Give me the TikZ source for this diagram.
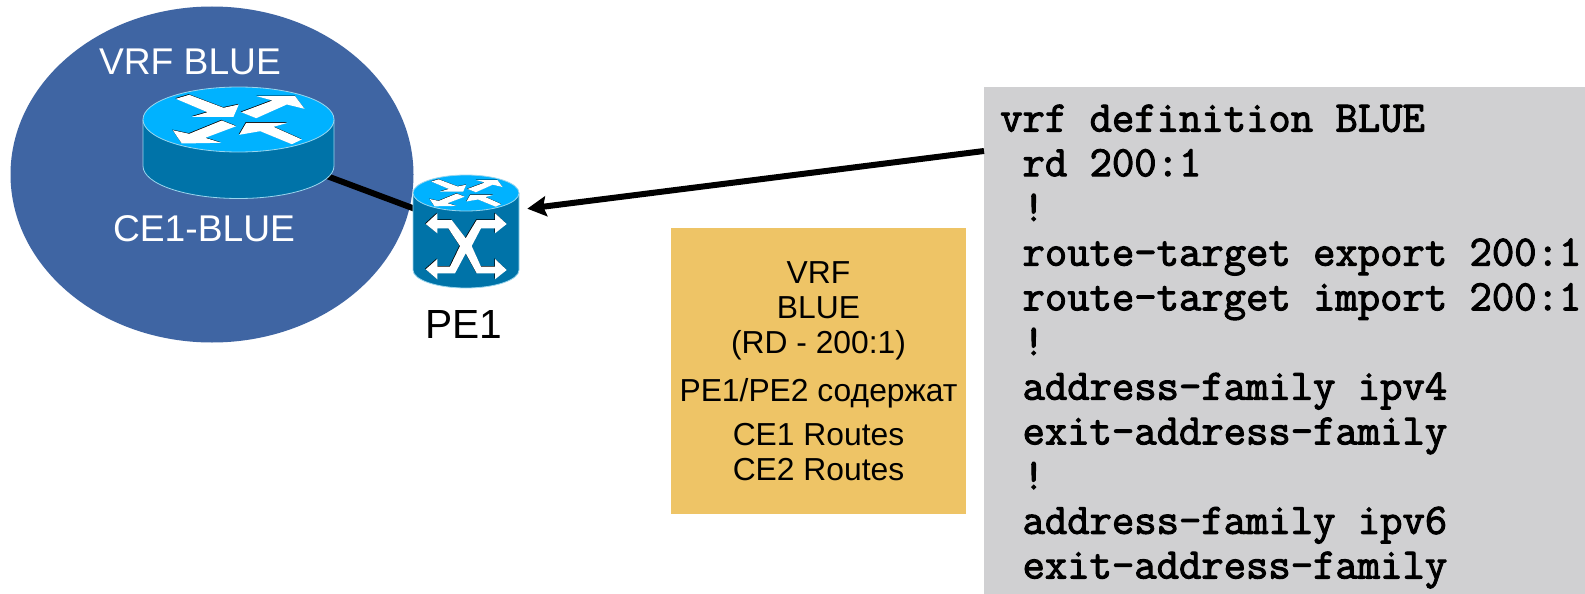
\documentclass[tikz,border=0pt]{standalone}
\usepackage{fontspec}
\setmainfont{Liberation Sans}
\newfontfamily\codefont[FakeBold=2.4]{Latin Modern Mono}
\usetikzlibrary{arrows.meta}
\definecolor{vrfblue}{HTML}{3F65A3}
\definecolor{disctop}{HTML}{00B2FF}
\definecolor{discside}{HTML}{0073A8}
\definecolor{discedge}{HTML}{9AD6EE}
\definecolor{notefill}{HTML}{EEC466}
\definecolor{codefill}{HTML}{D0D0D2}
\tikzset{
  spot/.style={inner sep=0pt, minimum size=0pt},
  biglabel/.style={font=\fontsize{37.2}{37}\selectfont},
  link/.style={line width=6pt},
  arrowlink/.style={line width=6pt, -{Stealth[length=19pt, width=20pt, inset=3pt]}},
  disc/.style={draw=discedge, line width=0.8pt},
}
\newcommand{\routerglyph}[4]{% centre x, centre y, scale, fill
\begin{scope}[shift={(#1,#2)}, scale=#3]
\foreach \dx/\dy/\ink in {-0.5/-0.6/black, 0/0/#4} {
\begin{scope}[shift={(\dx,\dy)}]
\fill[\ink] (-62.7,-20.7) -- (-49.3,-24.7) -- (-15,-11.7) -- (0.3,-15) -- (-5,-2.7) -- (-46.7,-2.7) -- (-31,-7.3) -- cycle;
\fill[\ink] (2.7,-7.3) -- (34,-19) -- (18.3,-23.3) -- (56.7,-23.3) -- (66,-10.7) -- (48.3,-15) -- (17.7,-1.3) -- cycle;
\fill[\ink] (-2.3,6.7) -- (-16.7,1) -- (-49.3,14.3) -- (-65.7,10.7) -- (-56.7,24) -- (-17.3,23.3) -- (-33.3,18.3) -- cycle;
\fill[\ink] (63.3,20) -- (53.3,24.7) -- (21.7,11.7) -- (0.7,15.3) -- (7.7,3.3) -- (49.3,3.3) -- (35,7.3) -- cycle;
\end{scope}
}
\end{scope}
}
\newcommand{\discbody}[5]{% centre x, centre y, x radius, y radius, side height
\fill[discside] (#1-#3,#2) -- ++(0,#5) arc [start angle=180, end angle=0, x radius=#3, y radius=#4] -- ++(0,-#5) -- cycle;
\draw[disc] (#1-#3,#2) -- ++(0,#5) arc [start angle=180, end angle=0, x radius=#3, y radius=#4] -- ++(0,-#5);
\draw[disc, fill=disctop] (#1,#2) ellipse [x radius=#3, y radius=#4];
}
\begin{document}
\begin{tikzpicture}[x=1pt, y=-1pt]
\useasboundingbox (0,0) rectangle (1585,594);
\fill[white] (0,0) rectangle (1585,594);
\fill[vrfblue] (212,174.5) ellipse [x radius=201.5, y radius=168];
\node[spot] (ce1) at (238.5,143) {};
\node[spot] (pe1) at (466,228) {};
\draw[link] (ce1.center) -- (pe1.center);
\discbody{238.5}{119.5}{95.5}{32.5}{46.5}
\routerglyph{238.5}{119.5}{1}{white}
\discbody{466}{193}{53}{18}{77}
\routerglyph{466}{193}{0.555}{white}
\foreach \dx/\dy/\ink in {-0.6/-0.6/black, 0/0/white} {
\fill[\ink, shift={(\dx,\dy)}] (425.7,224) -- (437.3,213.3) -- (437.3,220) -- (451.7,220) -- (465.7,238.3) -- (476.7,220) -- (495,220) -- (495,213.3) -- (506.7,224) -- (495,233.3) -- (495,228.3) -- (481,228.3) -- (471.7,246) -- (481,266.7) -- (495,266.7) -- (495,259) -- (506.7,270) -- (495,279.3) -- (495,273.3) -- (476.7,273.3) -- (465.7,253.3) -- (455,273.3) -- (437.3,273.3) -- (437.3,279.3) -- (425.7,269.3) -- (437.3,259) -- (437.3,266.7) -- (450,266.7) -- (460,246) -- (448.3,228.3) -- (437.3,228.3) -- (437.3,233.3) -- cycle;
}
\node[biglabel, text=white] (vrflabel) at (190,62) {VRF BLUE};
\node[biglabel, text=white] (celabel) at (204,228.5) {CE1-BLUE};
\node[font=\fontsize{40.7}{41}\selectfont] (pelabel) at (464,324.5) {PE1};
\fill[notefill] (671,228) rectangle (966,514);
\node[align=center, font=\fontsize{31.8}{35}\selectfont, inner sep=0pt] (note) at (818.5,371) {VRF\\BLUE\\(RD - 200:1)\\[13pt]PE1/PE2 содержат\\[9pt]CE1 Routes\\CE2 Routes};
\fill[codefill] (984,87) rectangle (1585,594);
\node[anchor=north west, align=left, inner sep=0pt, font=\codefont\fontsize{43.4}{44.7}\selectfont] (code) at (1000,104.5) {vrf definition BLUE\\
\ rd 200:1\\
\ !\\
\ route-target export 200:1\\
\ route-target import 200:1\\
\ !\\
\ address-family ipv4\\
\ exit-address-family\\
\ !\\
\ address-family ipv6\\
\ exit-address-family};
\coordinate (arrowtail) at (984,151);
\coordinate (arrowtip) at (527.3,208.7);
\draw[arrowlink] (arrowtail) -- (arrowtip);
\end{tikzpicture}
\end{document}
